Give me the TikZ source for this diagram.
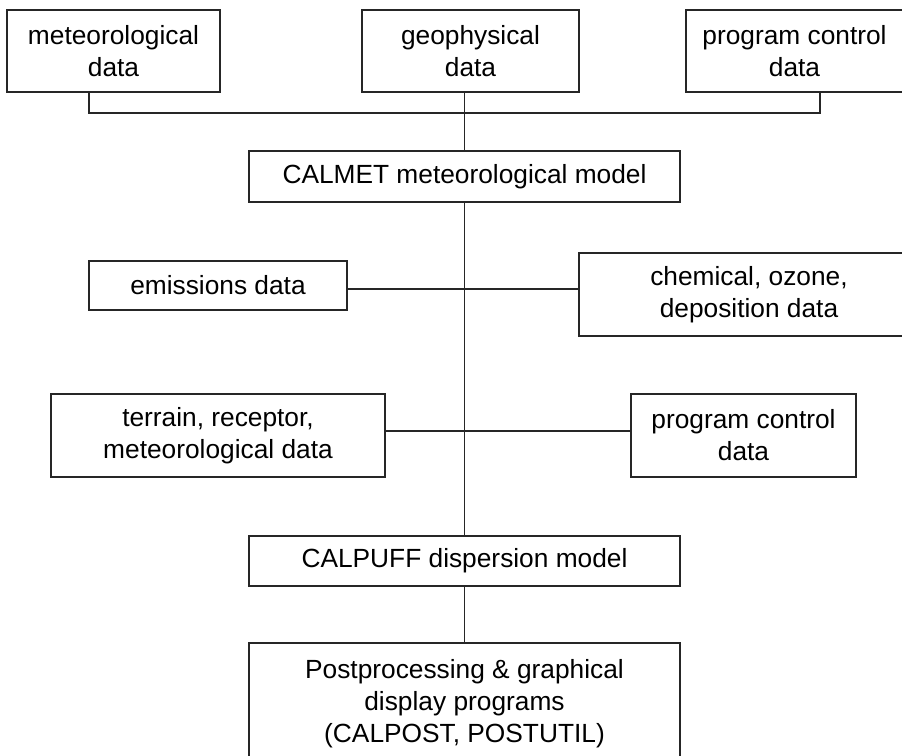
\documentclass[tikz,border=0pt]{standalone}
\usepackage{fontspec}
\setmainfont{Liberation Sans}
\begin{document}
\begin{tikzpicture}[x=1pt,y=-1pt,
  every node/.style={font=\fontsize{26.3}{32}\selectfont},
  databox/.style={draw=black!85,line width=1.1pt,rectangle,inner sep=0pt,align=center},
  link/.style={draw=black!85,line width=1.1pt}]
\useasboundingbox (0,0) rectangle (902,755);
% boxes
\node[databox,minimum width=213pt,minimum height=82pt] (met) at (113.5,51) {meteorological\\data};
\node[databox,minimum width=217pt,minimum height=82pt] (geo) at (470.5,51) {geophysical\\data};
\node[databox,minimum width=217pt,minimum height=82pt] (pcA) at (794.5,51) {program control\\data};
\node[databox,minimum width=431pt,minimum height=51pt] (calmet) at (464.5,176.5) {CALMET meteorological model};
\node[databox,minimum width=258pt,minimum height=49pt] (emis) at (218,285.5) {emissions data};
\node[databox,minimum width=340pt,minimum height=83pt] (chem) at (749,294.5) {chemical, ozone,\\deposition data};
\node[databox,minimum width=334pt,minimum height=83pt] (terr) at (218,435.5) {terrain, receptor,\\meteorological data};
\node[databox,minimum width=225pt,minimum height=83pt] (pcB) at (743.5,435.5) {program control\\data};
\node[databox,minimum width=431pt,minimum height=50pt] (calpuff) at (464.5,561) {CALPUFF dispersion model};
\node[databox,minimum width=431pt,minimum height=122pt] (post) at (464.5,704) {Postprocessing \& graphical\\display programs\\(CALPOST, POSTUTIL)};
% helper coordinates
\coordinate (busL) at (89,113);
\coordinate (busR) at (820,113);
\coordinate (rowA) at (0,289);
\coordinate (rowB) at (0,431);
% connectors
\draw[link] (met.south -| busL) -- (busL) -- (busR) -- (pcA.south -| busR);
\draw[link] (geo.south -| calmet.north) -- (calmet.north);
\draw[link] (calmet.south) -- (calpuff.north);
\draw[link] (calpuff.south) -- (post.north);
\draw[link] (emis.east |- rowA) -- (chem.west |- rowA);
\draw[link] (terr.east |- rowB) -- (pcB.west |- rowB);
\end{tikzpicture}
\end{document}
